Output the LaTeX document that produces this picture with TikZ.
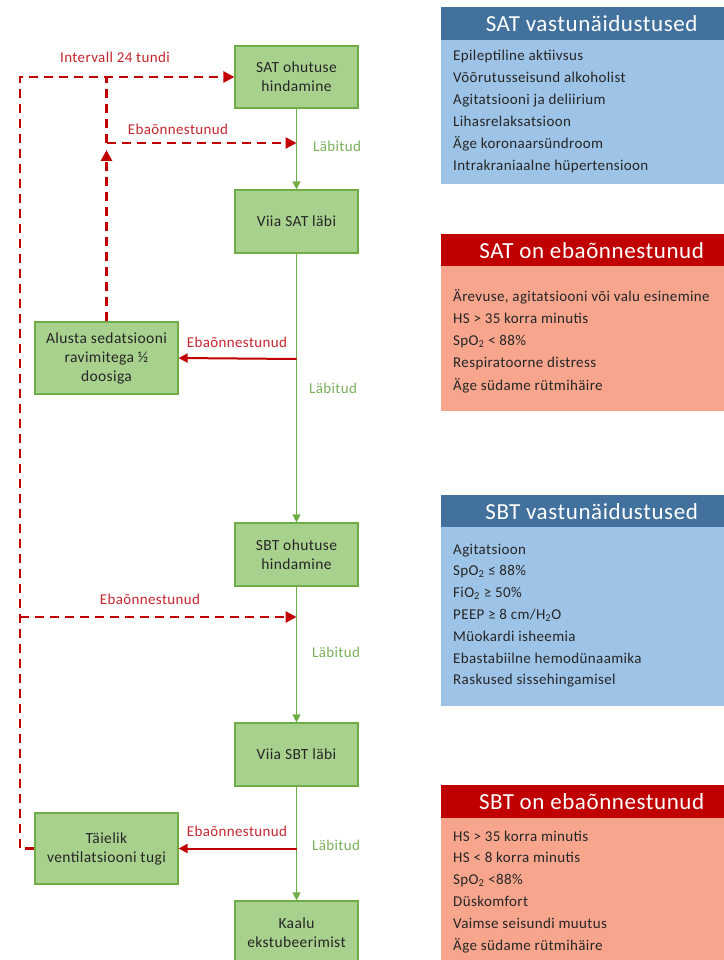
\documentclass[tikz,border=0pt]{standalone}
\usepackage{fontspec}
\setmainfont{Carlito}[LetterSpace=2.5]
\usetikzlibrary{arrows.meta}
\definecolor{gfill}{HTML}{A9D18E}
\definecolor{gdraw}{HTML}{70AD47}
\definecolor{garrow}{HTML}{70AD47}
\definecolor{glabel}{HTML}{78B05A}
\definecolor{rline}{HTML}{C00000}
\definecolor{rlabel}{HTML}{C4262E}
\definecolor{bhead}{HTML}{41719C}
\definecolor{bbody}{HTML}{9DC3E6}
\definecolor{rhead}{HTML}{C00000}
\definecolor{rbody}{HTML}{F7A58D}
\tikzset{
  flowbox/.style={draw=gdraw, line width=1.2pt, fill=gfill, align=center, text=black!85,
    font=\fontsize{15.5}{19}\selectfont, inner sep=0pt},
  okarrow/.style={draw=garrow, line width=1.3pt, -{Triangle[length=8pt,width=8pt]}},
  failarrow/.style={draw=rline, line width=2pt, -{Triangle[length=9pt,width=9pt]}},
  dashline/.style={draw=rline, line width=2.6pt, dash pattern=on 9pt off 6pt},
  dasharrow/.style={dashline, -{Triangle[length=11pt,width=11pt]}},
  faillabel/.style={text=rlabel, font=\fontsize{15}{17}\selectfont, inner sep=0pt},
  oklabel/.style={text=glabel, font=\fontsize{15}{17}\selectfont, inner sep=0pt},
  panelhead/.style={anchor=north west, minimum width=301pt, inner sep=0pt, text=white,
    font=\fontsize{23}{26}\selectfont},
  panelbody/.style={anchor=north west, minimum width=301pt, inner sep=0pt},
  listline/.style={anchor=west, inner sep=0pt, text=black!85, text height=11pt, text depth=3pt,
    font=\fontsize{15}{17}\selectfont}
}
\begin{document}
\begin{tikzpicture}[x=1pt,y=-1pt]
\useasboundingbox (0,0) rectangle (723,960);
% ---------- flow boxes ----------
\node[flowbox, minimum width=123pt, minimum height=62pt] (sat) at (296.5,77) {SAT ohutuse\\hindamine};
\node[flowbox, minimum width=123pt, minimum height=63pt] (viasat) at (296.5,221.5) {Viia SAT läbi};
\node[flowbox, minimum width=143pt, minimum height=72pt] (alusta) at (106.5,358) {Alusta sedatsiooni\\ravimitega ½\\doosiga};
\node[flowbox, minimum width=123pt, minimum height=63pt] (sbt) at (296.5,554.5) {SBT ohutuse\\hindamine};
\node[flowbox, minimum width=123pt, minimum height=63pt] (viasbt) at (296.5,754.5) {Viia SBT läbi};
\node[flowbox, minimum width=143pt, minimum height=71pt] (taielik) at (106.5,848.5) {Täielik\\ventilatsiooni tugi};
\node[flowbox, minimum width=123pt, minimum height=63pt] (kaalu) at (296.5,932.5) {Kaalu\\ekstubeerimist};
% ---------- green arrows ----------
\draw[okarrow] (sat.south) -- (viasat.north);
\draw[okarrow] (viasat.south) -- (sbt.north);
\draw[okarrow] (sbt.south) -- (viasbt.north);
\draw[okarrow] (viasbt.south) -- (kaalu.north);
% ---------- coordinates ----------
\coordinate (c1) at (296.5,359);
\coordinate (c2) at (296.5,848.5);
\coordinate (o1) at (20,848.5);
\coordinate (o2) at (20,77);
\coordinate (j1) at (106.5,150);
\coordinate (j2) at (106.5,143);
\coordinate (j3) at (106.5,77);
\coordinate (g1) at (296.5,143);
\coordinate (o3) at (20,617);
\coordinate (g2) at (296.5,617);
% ---------- red solid arrows ----------
\draw[failarrow] (c1) -- (alusta.east);
\draw[failarrow] (c2) -- (taielik.east);
% ---------- dashed ----------
\draw[dasharrow] (taielik.west) -- (o1) -- (o2) -- (sat.west);
\draw[dasharrow] (alusta.north) -- (j1);
\draw[dashline] (j2) -- (j3);
\draw[dasharrow] (j2) -- (g1);
\draw[dasharrow] (o3) -- (g2);
% ---------- labels ----------
\node[faillabel] (l0) at (115,57) {Intervall 24 tundi};
\node[faillabel] (l1) at (178,129) {Ebaõnnestunud};
\node[oklabel] (k1) at (337,146) {Läbitud};
\node[faillabel] (l2) at (237,342) {Ebaõnnestunud};
\node[oklabel] (k2) at (333,388) {Läbitud};
\node[faillabel] (l3) at (150,599) {Ebaõnnestunud};
\node[oklabel] (k3) at (336,652) {Läbitud};
\node[faillabel] (l4) at (237,831) {Ebaõnnestunud};
\node[oklabel] (k4) at (336,845) {Läbitud};
% ---------- panel 1 ----------
\node[panelbody, fill=bbody, minimum height=144pt] (p1b) at (441,40) {};
\node[panelhead, fill=bhead, minimum height=33pt] (p1h) at (441,7) {SAT vastunäidustused};
\foreach \t [count=\i] in {{Epileptiline aktiivsus},{Võõrutusseisund alkoholist},{Agitatsiooni ja deliirium},{Lihasrelaksatsioon},{Äge koronaarsündroom},{Intrakraniaalne hüpertensioon}}
  \node[listline] (p1l\i) at (453,{57+22*(\i-1)}) {\t};
% ---------- panel 2 ----------
\node[panelbody, fill=rbody, minimum height=145pt] (p2b) at (441,266) {};
\node[panelhead, fill=rhead, minimum height=32pt] (p2h) at (441,234) {SAT on ebaõnnestunud};
\foreach \t [count=\i] in {{Ärevuse, agitatsiooni või valu esinemine},{HS > 35 korra minutis},{SpO\textsubscript{2} < 88\%},{Respiratoorne distress},{Äge südame rütmihäire}}
  \node[listline] (p2l\i) at (453,{297+22.25*(\i-1)}) {\t};
% ---------- panel 3 ----------
\node[panelbody, fill=bbody, minimum height=179pt] (p3b) at (441,527) {};
\node[panelhead, fill=bhead, minimum height=32pt] (p3h) at (441,495) {SBT vastunäidustused};
\foreach \t [count=\i] in {{Agitatsioon},{SpO\textsubscript{2} ≤ 88\%},{FiO\textsubscript{2} ≥ 50\%},{PEEP ≥ 8 cm/H\textsubscript{2}O},{Müokardi isheemia},{Ebastabiilne hemodünaamika},{Raskused sissehingamisel}}
  \node[listline] (p3l\i) at (453,{550+21.8*(\i-1)}) {\t};
% ---------- panel 4 ----------
\node[panelbody, fill=rbody, minimum height=150pt] (p4b) at (441,818) {};
\node[panelhead, fill=rhead, minimum height=33pt] (p4h) at (441,785) {SBT on ebaõnnestunud};
\foreach \t [count=\i] in {{HS > 35 korra minutis},{HS < 8 korra minutis},{SpO\textsubscript{2} <88\%},{Düskomfort},{Vaimse seisundi  muutus},{Äge südame rütmihäire}}
  \node[listline] (p4l\i) at (453,{837+21.8*(\i-1)}) {\t};
\end{tikzpicture}
\end{document}
